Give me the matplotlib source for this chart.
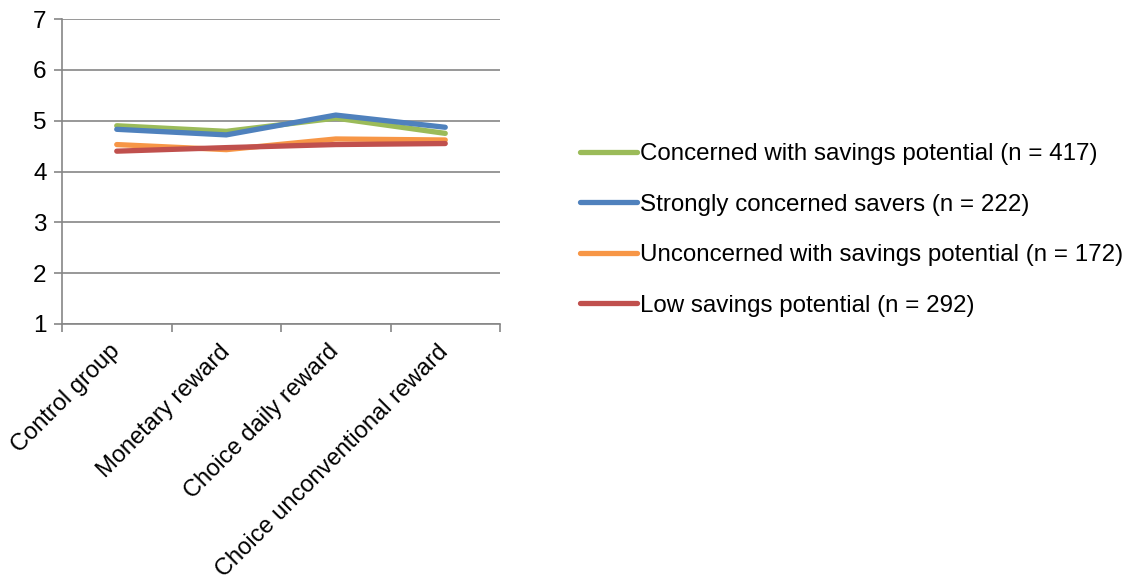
import numpy as np
import matplotlib.pyplot as plt
import matplotlib.transforms as mtransforms

plt.rcParams['font.family'] = ['Liberation Sans', 'DejaVu Sans']

categories = ['Control group', 'Monetary reward', 'Choice daily reward',
              'Choice unconventional reward']
series_names = ['Concerned with savings potential (n = 417)',
                'Strongly concerned savers (n = 222)',
                'Unconcerned with savings potential (n = 172)',
                'Low savings potential (n = 292)']
concerned = [4.90, 4.79, 5.05, 4.75]
strongly = [4.83, 4.72, 5.11, 4.87]
unconcerned = [4.53, 4.43, 4.64, 4.62]
low = [4.40, 4.47, 4.53, 4.55]
colors = ['#9BBB59', '#4F81BD', '#F79646', '#C0504D']

fig = plt.figure(figsize=(11.26, 5.82), dpi=100)
ax = fig.add_axes([62/1126, 1 - 324/582, 438/1126, 305/582])

x = np.arange(len(categories))
for vals, name, c in zip([concerned, strongly, unconcerned, low], series_names, colors):
    ax.plot(x, vals, color=c, lw=3.8, solid_capstyle='round', label=name)

ax.set_xlim(-0.5, 3.5)
ax.set_ylim(1, 7)
ax.set_yticks(range(1, 8))
ax.yaxis.grid(True, color='#868686', lw=1.2)
ax.set_axisbelow(True)

# tick marks sit between categories, labels sit under the category centres
ax.set_xticks(np.arange(-0.5, 4, 1))
ax.set_xticklabels([])
ax.set_xticks(x, minor=True)
ax.set_xticklabels(categories, minor=True, rotation=45, ha='right', va='center',
                   rotation_mode='anchor', fontsize=17)
shift = mtransforms.ScaledTranslation(-8/100, 0, fig.dpi_scale_trans)
for lbl in ax.get_xticklabels(minor=True):
    lbl.set_transform(lbl.get_transform() + shift)
ax.tick_params(axis='x', which='minor', length=0, pad=17.5)
ax.tick_params(axis='x', which='major', length=6, color='#868686', width=1.2)
ax.tick_params(axis='y', length=6, color='#868686', width=1.2, labelsize=17.5, pad=5)
for s in ['top', 'right']:
    ax.spines[s].set_visible(False)
for s in ['left', 'bottom']:
    ax.spines[s].set_color('#868686')
    ax.spines[s].set_linewidth(1.2)

ax.legend(loc='center left', bbox_to_anchor=(580/1126, 1 - 230/582),
          bbox_transform=fig.transFigure, frameon=False, fontsize=17.4,
          borderaxespad=0, borderpad=0,
          handlelength=2.35, handletextpad=0.13, labelspacing=1.18)

fig.savefig('out.png', dpi=100)
